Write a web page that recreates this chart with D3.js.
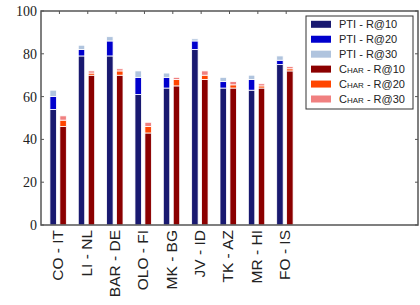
<html>
<head>
<script src="https://d3js.org/d3.v7.min.js"></script>
<style>
  body { margin: 0; padding: 0; background: #fff; }
  svg text { fill: #222; }
  .ylab { font-family: "Liberation Serif", "DejaVu Serif", serif; font-size: 14px; }
  .xlab { font-family: "Liberation Sans", Arial, sans-serif; font-size: 15.5px; }
  .leg { font-family: "Liberation Sans", Arial, sans-serif; font-size: 11px; }
</style>
</head>
<body>
<script>
// language pairs
var pairs = ["CO - IT", "LI - NL", "BAR - DE", "OLO - FI", "MK - BG", "JV - ID", "TK - AZ", "MR - HI", "FO - IS"];

// recall values (cumulative)
var ptiR10  = [54, 79, 79, 61, 64, 82, 64, 63, 75];
var ptiR20  = [60, 82, 86, 69, 69, 86, 67, 68, 77];
var ptiR30  = [63, 84, 88, 72, 71, 87, 69, 70, 79];
var charR10 = [46, 70, 70, 43, 65, 68, 64, 64, 72];
var charR20 = [49, 71, 72, 46, 68, 70, 65.5, 65, 73];
var charR30 = [51, 72, 73, 48, 69, 72, 67, 66, 74];

var yTicks = [0, 20, 40, 60, 80, 100];

var legendLabels = ["PTI - R@10", "PTI - R@20", "PTI - R@30", "Char - R@10", "Char - R@20", "Char - R@30"];
var colors = ["#191970", "#0000cd", "#b0c4de", "#8b0000", "#ff4500", "#f08080"];

function draw() {
  var width = 420, height = 305;
  var mLeft = 41, mRight = 418, mTop = 11, mBottom = 225;

  var svg = d3.select("body").append("svg")
      .attr("width", width)
      .attr("height", height);

  var x = d3.scaleLinear().domain([0.35, 13.65]).range([mLeft, mRight]);
  var y = d3.scaleLinear().domain([0, 100]).range([mBottom, mTop]);
  var sub = d3.scaleBand().domain(["pti", "char"]).range([-9.5, 6.9]).paddingInner(0.35);

  var groups = [
    {key: "pti", series: [ptiR10, ptiR20, ptiR30], cols: colors.slice(0, 3)},
    {key: "char", series: [charR10, charR20, charR30], cols: colors.slice(3, 6)}
  ];

  // bars
  groups.forEach(function(g) {
    g.series.forEach(function(s, k) {
      svg.append("g").selectAll("rect")
        .data(pairs)
        .enter().append("rect")
          .attr("x", function(d, i) { return x(i + 1) + sub(g.key); })
          .attr("width", sub.bandwidth())
          .attr("y", function(d, i) { return y(s[i]); })
          .attr("height", function(d, i) {
            var lo = k == 0 ? 0 : g.series[k - 1][i];
            return y(lo) - y(s[i]);
          })
          .attr("fill", g.cols[k])
          .attr("stroke", "#fff")
          .attr("stroke-width", 0.8);
    });
  });

  // frame
  svg.append("rect")
    .attr("x", mLeft).attr("y", mTop)
    .attr("width", mRight - mLeft).attr("height", mBottom - mTop)
    .attr("fill", "none").attr("stroke", "#555").attr("stroke-width", 1.5);

  // ticks
  var tk = svg.append("g").attr("stroke", "#555").attr("stroke-width", 1);
  yTicks.forEach(function(t) {
    tk.append("line").attr("x1", mLeft).attr("x2", mLeft + 3).attr("y1", y(t)).attr("y2", y(t));
    tk.append("line").attr("x1", mRight).attr("x2", mRight - 3).attr("y1", y(t)).attr("y2", y(t));
  });
  pairs.forEach(function(p, i) {
    tk.append("line").attr("x1", x(i + 1)).attr("x2", x(i + 1)).attr("y1", mTop).attr("y2", mTop + 3);
  });

  // y labels
  svg.append("g").selectAll("text")
    .data(yTicks)
    .enter().append("text")
      .attr("class", "ylab")
      .attr("x", mLeft - 4)
      .attr("y", function(d) { return y(d); })
      .attr("dy", "0.35em")
      .attr("text-anchor", "end")
      .text(function(d) { return d; });

  // x labels
  svg.append("g").selectAll("text")
    .data(pairs)
    .enter().append("text")
      .attr("class", "xlab")
      .attr("transform", function(d, i) { return "translate(" + (x(i + 1) - 1.5) + "," + (mBottom + 5) + ") rotate(-90)"; })
      .attr("dy", "0.35em")
      .attr("text-anchor", "end")
      .text(function(d) { return d; });

  // legend
  var leg = svg.append("g");
  leg.append("rect")
    .attr("x", 306).attr("y", 16).attr("width", 107).attr("height", 93)
    .attr("fill", "#fff").attr("stroke", "#333").attr("stroke-width", 1);
  var row = d3.scaleLinear().domain([0, 5]).range([24.3, 99]);
  legendLabels.forEach(function(l, i) {
    leg.append("rect")
      .attr("x", 311).attr("y", row(i) - 3.5).attr("width", 20).attr("height", 7)
      .attr("fill", colors[i]);
    leg.append("text")
      .attr("class", "leg")
      .attr("x", 339).attr("y", row(i))
      .attr("dy", "0.35em")
      .style("font-variant", i >= 3 ? "small-caps" : "normal")
      .text(l);
  });
}

draw();
</script>
</body>
</html>
